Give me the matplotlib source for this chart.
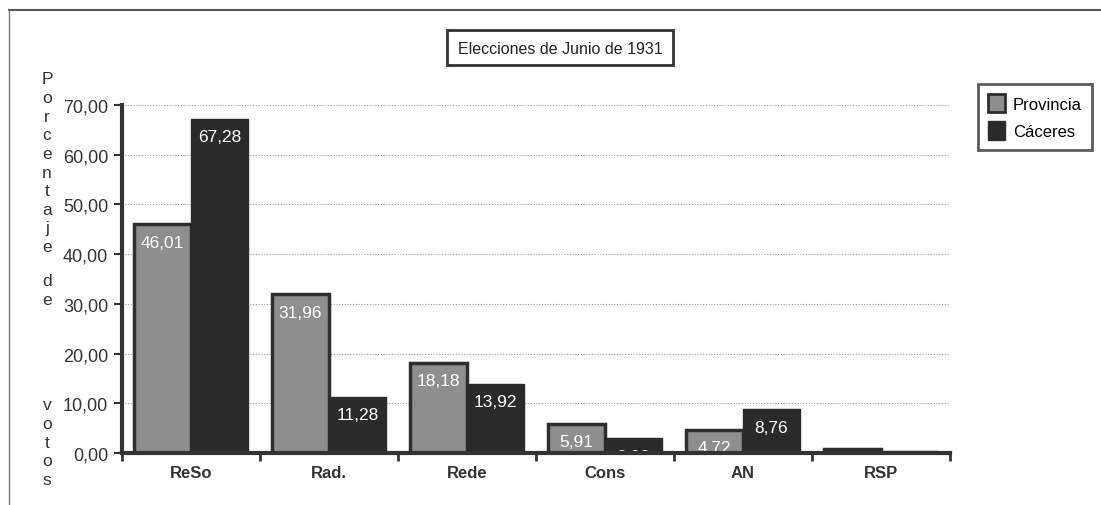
import matplotlib
matplotlib.use("Agg")
import matplotlib.pyplot as plt
import numpy as np
from matplotlib.patches import Rectangle, Patch
from matplotlib.lines import Line2D

# Data ***************************************************************
partidos = ['ReSo', 'Rad.', 'Rede', 'Cons', 'AN', 'RSP']
provincia = [46.01, 31.96, 18.18, 5.91, 4.72, 0.86]
caceres = [67.28, 11.28, 13.92, 2.92, 8.76, 0.42]
y_ticks = [0, 10, 20, 30, 40, 50, 60, 70]
titulo = 'Elecciones de Junio de 1931'
eje_y = ['Porcentaje', 'de', 'votos']

W, H = 1101, 506
plt.rcParams['font.family'] = ['Liberation Sans', 'DejaVu Sans']

def fx(px):
    return px / W

def fy(py):
    # pixel from top -> figure fraction
    return 1 - py / H

def fmt(v):
    return f'{v:.2f}'.replace('.', ',')

fig = plt.figure(figsize=(W / 100, H / 100), dpi=100)
ax = fig.add_axes([fx(122), fy(454), fx(950) - fx(122), fy(106) - fy(454)])

c_prov = '#8e8e8e'
c_prov_edge = '#2e2e2e'
c_cac = '#2b2b2b'
w = 0.413
x = np.arange(len(partidos))

ax.bar(x - w / 2, provincia, w, color=c_prov, edgecolor=c_prov_edge, linewidth=2.5, zorder=3)
ax.bar(x + w / 2, caceres, w, color=c_cac, edgecolor=c_cac, linewidth=1, zorder=3)

# value labels, white, just under the top of each bar (clipped by the axis)
def etiquetas(xs, vals):
    for xi, v in zip(xs, vals):
        if v < 2:   # would be hidden entirely under the axis
            continue
        ax.annotate(fmt(v), xy=(xi, v), xytext=(0, -13), textcoords='offset points',
                    ha='center', va='center', color='white', fontsize=12.5, zorder=4,
                    annotation_clip=False, clip_on=True)

etiquetas(x - w / 2, provincia)
etiquetas(x + w / 2, caceres)

ax.set_xlim(-0.5, len(partidos) - 0.5)
ax.set_ylim(0, 70)
ax.set_yticks(y_ticks)
ax.set_yticklabels([fmt(t) for t in y_ticks], fontsize=13, color='#333333')
ax.yaxis.grid(True, linestyle=(0, (1, 1.5)), color='#999999', linewidth=0.8)
ax.set_axisbelow(True)

ax.set_xticks(np.arange(len(partidos) + 1) - 0.5)
ax.set_xticklabels([])
ax.set_xticks(x, minor=True)
ax.set_xticklabels(partidos, minor=True, fontsize=12, fontweight='bold', color='#333333')
ax.tick_params(axis='x', which='major', direction='out', length=6, width=2, color='#333333')
ax.tick_params(axis='x', which='minor', length=0, pad=9)
ax.tick_params(axis='y', direction='out', length=6, width=1.5, color='#333333', pad=4)

for s in ['top', 'right']:
    ax.spines[s].set_visible(False)
for s in ['left', 'bottom']:
    ax.spines[s].set_linewidth(3)
    ax.spines[s].set_color('#333333')
    ax.spines[s].set_zorder(5)

# stacked y-axis label
ys = [80, 282, 406]
for word, y0 in zip(eje_y, ys):
    for i, ch in enumerate(word):
        fig.text(fx(47), fy(y0 + i * 18.6), ch, ha='center', va='center',
                 fontsize=12.5, color='#333333')

# title box
fig.add_artist(Rectangle((fx(447), fy(66)), fx(673) - fx(447), fy(31) - fy(66),
                         transform=fig.transFigure, fill=False,
                         edgecolor='#333333', linewidth=2))
fig.text(fx(560), fy(49), titulo, ha='center', va='center', fontsize=11.5,
         color='#222222')

# page frame lines
fig.add_artist(Line2D([fx(9), 1], [fy(11), fy(11)], transform=fig.transFigure,
                      color='#555555', linewidth=1.5))
fig.add_artist(Line2D([fx(9), fx(9)], [fy(11), 0], transform=fig.transFigure,
                      color='#777777', linewidth=1))

handles = [Patch(facecolor=c_prov, edgecolor=c_prov_edge, linewidth=2),
           Patch(facecolor=c_cac, edgecolor=c_cac)]
leg = fig.legend(handles, ['Provincia', 'Cáceres'], loc='upper left',
                 bbox_to_anchor=(fx(978), fy(85)), borderaxespad=0,
                 fontsize=12, frameon=True, fancybox=False, edgecolor='#333333',
                 handlelength=1.0, handleheight=1.3, handletextpad=0.5,
                 labelspacing=0.55, borderpad=0.6)
leg.get_frame().set_linewidth(2)

fig.savefig('out.png', dpi=100)
